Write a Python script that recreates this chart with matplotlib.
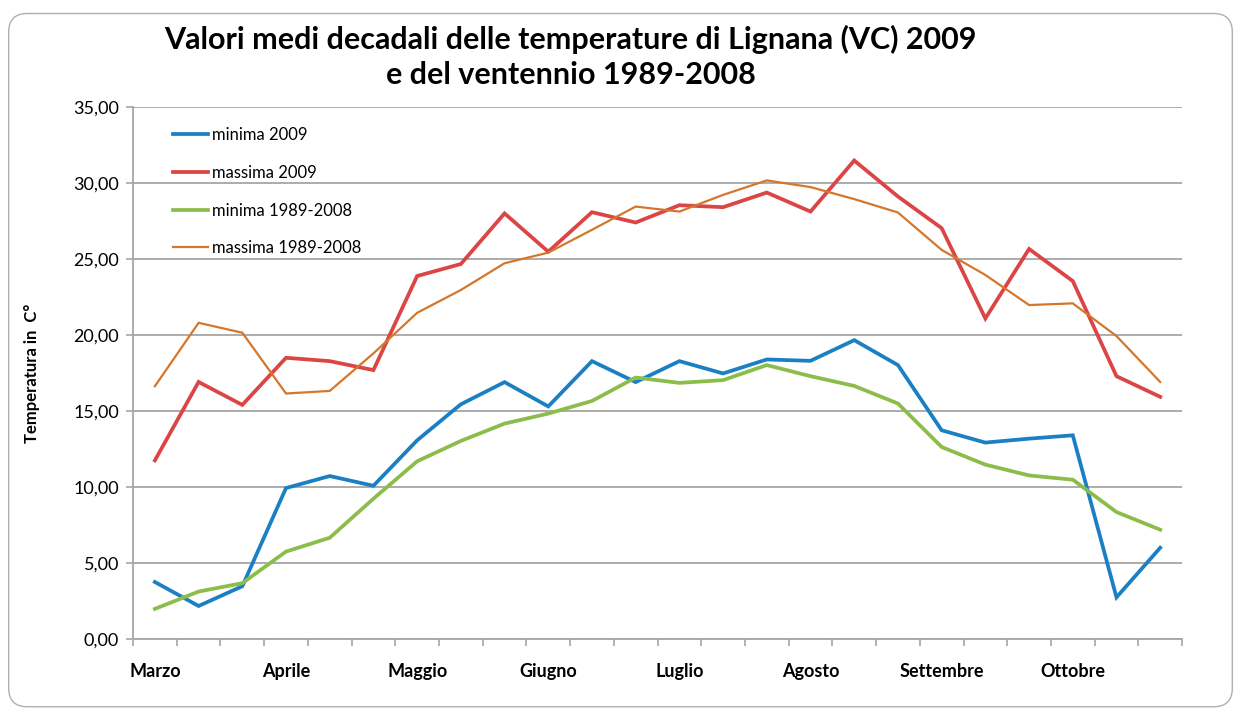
import matplotlib
matplotlib.use("Agg")
import matplotlib.pyplot as plt
from matplotlib.patches import FancyBboxPatch

months = ["Marzo", "Aprile", "Maggio", "Giugno", "Luglio", "Agosto", "Settembre", "Ottobre"]

min_2009 = [3.75, 2.17, 3.47, 9.93, 10.72, 10.08, 13.07, 15.44, 16.9, 15.3, 18.28, 16.9,
            18.28, 17.47, 18.39, 18.3, 19.66, 18.02, 13.73, 12.92, 13.18, 13.4, 2.74, 6.0]
max_2009 = [11.75, 16.91, 15.4, 18.5, 18.28, 17.69, 23.88, 24.67, 28.0, 25.48, 28.08, 27.4,
            28.54, 28.41, 29.37, 28.12, 31.48, 29.11, 27.03, 21.09, 25.66, 23.55, 17.29, 15.93]
min_8908 = [1.98, 3.12, 3.67, 5.75, 6.66, 9.23, 11.69, 13.03, 14.17, 14.83, 15.66, 17.2,
            16.85, 17.03, 18.02, 17.29, 16.65, 15.49, 12.63, 11.47, 10.76, 10.48, 8.35, 7.19]
max_8908 = [16.63, 20.8, 20.15, 16.15, 16.32, 18.79, 21.46, 22.96, 24.72, 25.42, 26.92, 28.45,
            28.12, 29.22, 30.17, 29.73, 28.94, 28.06, 25.6, 23.95, 21.97, 22.08, 19.93, 16.91]

series_names = ["minima 2009", "massima 2009", "minima 1989-2008", "massima 1989-2008"]
yticks = [0, 5, 10, 15, 20, 25, 30, 35]

plt.rcParams['font.family'] = ['Lato', 'DejaVu Sans']

fig = plt.figure(figsize=(12.41, 7.11), dpi=100)
fig.patch.set_facecolor("white")
border = FancyBboxPatch((0.007, 0.006), 0.986, 0.975, boxstyle="round,pad=0,rounding_size=0.015",
                        transform=fig.transFigure, facecolor="white", edgecolor="#b0b0b0",
                        linewidth=1.0, mutation_aspect=1241/711, zorder=-10)
fig.patches.append(border)

ax = fig.add_axes([0.1072, 0.1013, 0.8453, 0.7482])
ax.set_facecolor("none")
ax.set_zorder(5)

n = len(min_2009)
x = list(range(n))
ax.plot(x, min_2009, color="#1b80c3", lw=2.7, label=series_names[0], solid_joinstyle="miter")
ax.plot(x, max_2009, color="#dc4545", lw=2.7, label=series_names[1], solid_joinstyle="miter")
ax.plot(x, min_8908, color="#8cbd4a", lw=2.7, label=series_names[2], solid_joinstyle="miter")
ax.plot(x, max_8908, color="#d5772b", lw=1.6, label=series_names[3], solid_joinstyle="miter")

ax.set_xlim(-0.5, n - 0.5)
ax.set_ylim(0, 35)
ax.set_yticks(yticks)
ax.set_yticklabels([f"{v:.2f}".replace(".", ",") for v in yticks], fontsize=13)
ax.yaxis.grid(True, color="#a6a6a6", lw=1.3)
ax.set_axisbelow(True)

ax.set_xticks([i - 0.5 for i in range(n + 1)])
ax.set_xticklabels([])
ax.set_xticks(list(range(0, n, 3)), minor=True)
ax.set_xticklabels(months, minor=True, fontsize=13, fontweight="bold")
ax.tick_params(axis="x", which="minor", length=0, pad=17)
ax.tick_params(axis="x", which="major", length=5, color="#a6a6a6", width=1.2)
ax.tick_params(axis="y", length=5, color="#a6a6a6", width=1.2, pad=5)

for s in ["top", "right"]:
    ax.spines[s].set_visible(False)
for s in ["left", "bottom"]:
    ax.spines[s].set_color("#a6a6a6")
    ax.spines[s].set_linewidth(1.3)

ax.set_ylabel("Temperatura in  C°", fontsize=12, fontweight="bold", labelpad=24)

leg = ax.legend(loc="upper left", bbox_to_anchor=(0.024, 0.99), frameon=False, fontsize=12,
                handlelength=2.1, handletextpad=0.2, labelspacing=1.3)

fig.text(0.46, 0.92, "Valori medi decadali delle temperature di Lignana (VC) 2009\ne del ventennio 1989-2008",
         ha="center", va="center", fontsize=22, fontweight="bold", linespacing=1.3)

fig.savefig("out.png", dpi=100, facecolor="white")
